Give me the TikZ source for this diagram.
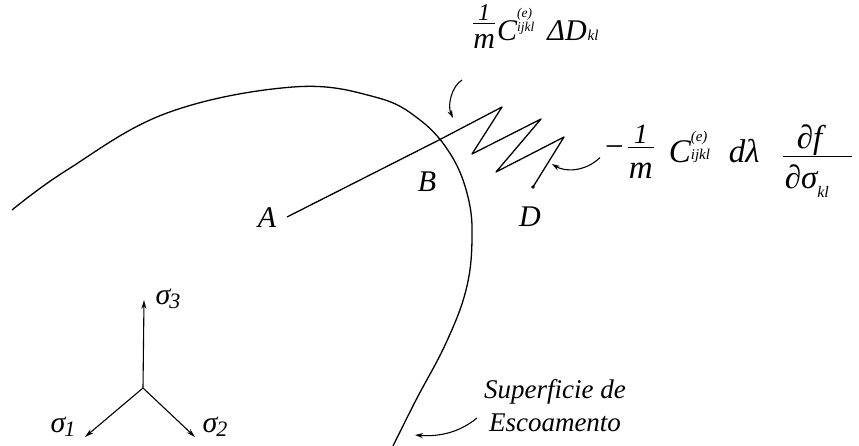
\documentclass[tikz,border=0pt]{standalone}
\usepackage{fontspec}
\setmainfont{Liberation Serif}
\newlength\fracw
% manual fraction: num, den, num raise, den drop, bar raise, width
\newcommand\mfrac[6]{\mbox{\setlength\fracw{#6}%
  \rlap{\raisebox{#3}{\makebox[\fracw]{#1}}}%
  \rlap{\raisebox{-#4}{\makebox[\fracw]{#2}}}%
  \raisebox{#5}{\rule{\fracw}{1.3pt}}}}
% stacked scripts: sup, sub, sup raise, sub raise, size
\newcommand\scr[5]{\mbox{\fontsize{#5}{#5}\selectfont
  \rlap{\raisebox{#3}{#1}}\raisebox{#4}{#2}}}
\newcommand\sigsub[1]{σ\kern-1pt\raisebox{-4pt}{\fontsize{22}{22}\selectfont #1}}
\usetikzlibrary{arrows.meta}
\begin{document}
\begin{tikzpicture}[x=1pt,y=-1pt,
  curve/.style={line width=1.3pt, line join=round},
  lbl/.style={font=\fontsize{30}{34}\selectfont\itshape, inner sep=0pt},
  fmla/.style={font=\fontsize{30}{34}\selectfont\itshape, inner sep=0pt},
  fmlb/.style={font=\fontsize{33}{37}\selectfont\itshape, inner sep=0pt},
  note/.style={font=\fontsize{27}{33}\selectfont\itshape, inner sep=0pt, align=center},
  pointer/.style={line width=1.1pt, -{Stealth[length=8pt,width=5pt]}},
  axis/.style={line width=1.1pt, -{Stealth[length=9pt,width=5pt]}}]
\useasboundingbox (0,0) rectangle (859,445);

% yield surface
\draw[curve] plot[smooth, tension=0.65] coordinates {(12,210) (67,170) (167,113) (293,87) (375,97) (420,120) (451,155) (468,197) (472,240) (466,290) (446,343) (416,400) (393,446)};

% stress path A-B and spring to D
\coordinate (pA) at (287,217);
\coordinate (pB) at (439,140);
\coordinate (s1) at (502,107);
\coordinate (s2) at (472,154);
\coordinate (s3) at (541,119);
\coordinate (s4) at (496,172);
\coordinate (s5) at (564,137);
\coordinate (pD) at (533,187);
\draw[curve] (pA) -- (pB) -- (s1) -- (s2) -- (s3) -- (s4) -- (s5) -- (pD);
\fill (pD) circle (1.8pt);

\node[lbl] (A) at (267,218) {A};
\node[lbl] (B) at (427,182) {B};
\node[lbl] (D) at (530,217) {D};

% formulas
\node[fmla, anchor=base west] (f1) at (473,40) {\mfrac{\fontsize{24}{24}\selectfont 1}{m}{20pt}{8pt}{16pt}{22pt}\hspace{2pt}C\scr{(e)}{ijkl}{23pt}{9pt}{13.5}\hspace{13pt}ΔD\kern1pt{\fontsize{15}{15}\selectfont kl}};
\node[fmlb, anchor=base west] (f2) at (605,162) {\raisebox{5pt}{\upshape −}\hspace{4pt}\mfrac{\fontsize{28}{28}\selectfont 1}{m}{19pt}{16pt}{14pt}{26pt}\hspace{15pt}C\scr{(e)}{ijkl}{21pt}{3pt}{15}\hspace{19pt}dλ\hspace{23pt}\mfrac{\makebox[69pt][l]{\hspace{14pt}∂f}}{\makebox[69pt][l]{\hspace{2pt}∂σ\raisebox{-9pt}{\fontsize{16}{16}\selectfont kl}}}{14pt}{26pt}{5pt}{69pt}};

% pointers
\coordinate (t1) at (453,118);
\draw[pointer] (462,80) .. controls (452,86) and (447,105) .. (t1);
\coordinate (t2) at (552,164);
\draw[pointer] (f2.west) ++(-5,-3) .. controls (585,172) and (565,172) .. (t2);

% note
\node[note] (N) at (555,406) {Superficie de\\Escoamento};
\coordinate (t3) at (415,435);
\draw[pointer] (477,418) .. controls (460,432) and (440,437) .. (t3);

% axes
\coordinate (O) at (143,388);
\coordinate (a3) at (144,300);
\coordinate (a1) at (85,437);
\coordinate (a2) at (195,437);
\draw[axis] (O) -- (a3);
\draw[axis] (O) -- (a1);
\draw[axis] (O) -- (a2);
\node[lbl] (L3) at (168,299) {\sigsub{3}};
\node[lbl] (L1) at (63,427) {\sigsub{1}};
\node[lbl] (L2) at (215,427) {\sigsub{2}};
\end{tikzpicture}
\end{document}
